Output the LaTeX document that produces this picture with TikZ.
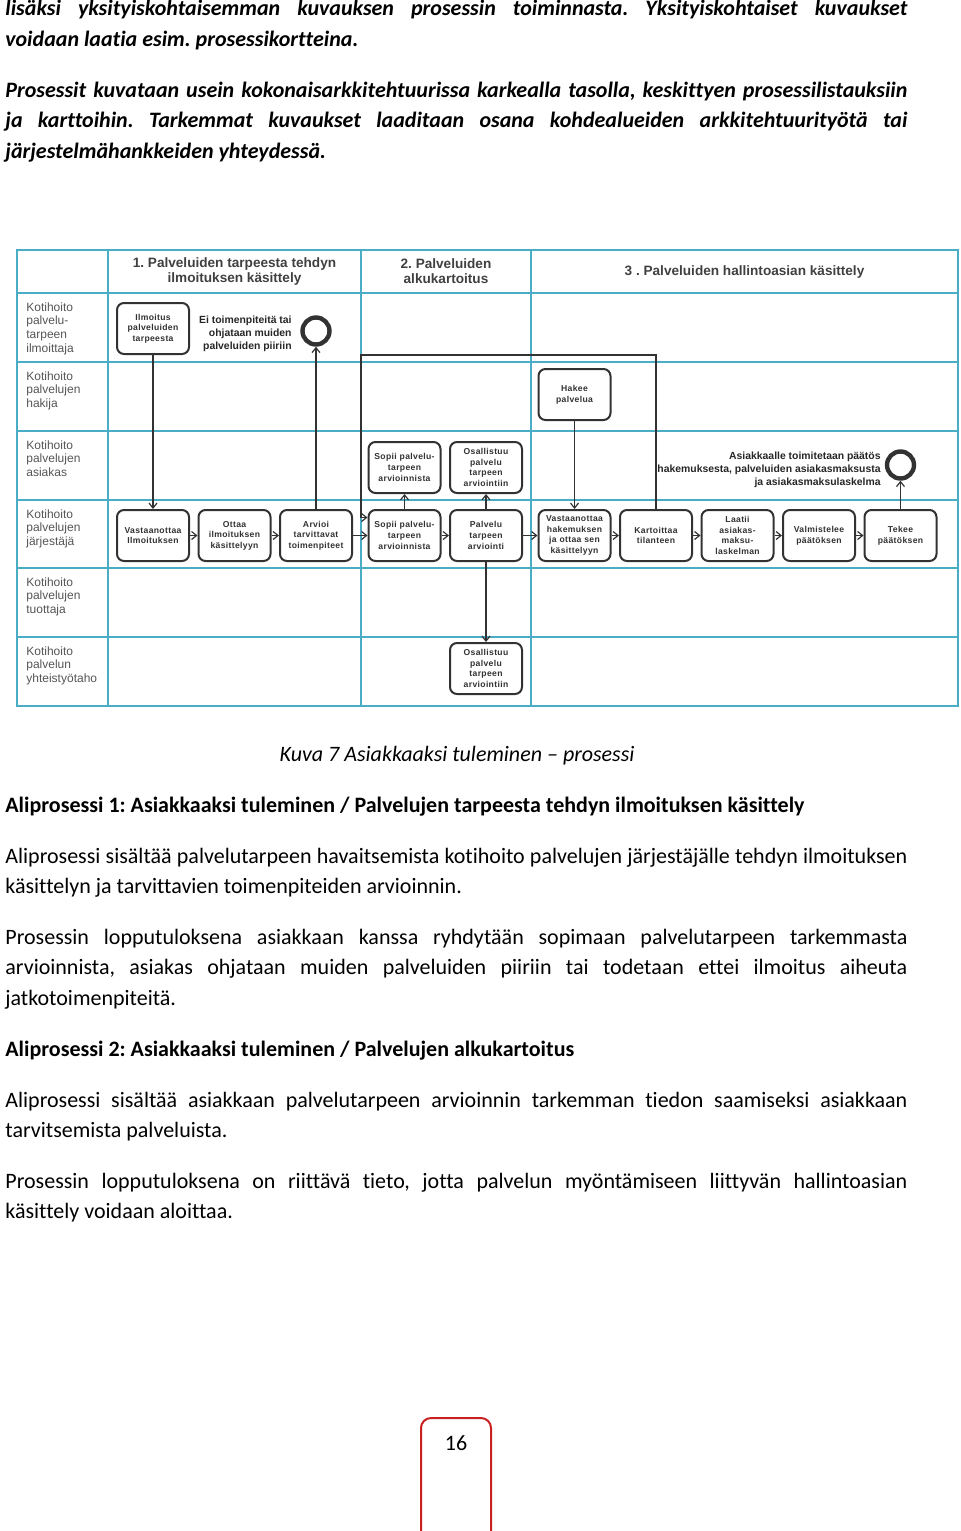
\documentclass[tikz,border=0pt]{standalone}
\usepackage{fontspec}
\setmainfont[Ligatures=NoCommon]{Carlito}
\newfontfamily\diagfont{Liberation Sans}
\newfontfamily\taskfont[LetterSpace=4]{Liberation Sans}
\usetikzlibrary{positioning, arrows.meta}
\setlength\parindent{0pt}
\frenchspacing
\tolerance=9999
\hbadness=10000
\hyphenpenalty=10000
\definecolor{lanec}{RGB}{75,172,198}
\definecolor{boxc}{RGB}{50,50,50}
\definecolor{labc}{RGB}{85,85,85}
\definecolor{pagec}{RGB}{200,32,32}
\newcommand\bodyfont{\fontsize{11}{15.25}\selectfont}
\tikzstyle{body} = [anchor=base west, inner sep=0pt, text width=451pt, align=justify, font=\bodyfont]
\tikzstyle{lane} = [draw=lanec, line width=0.75pt]
\tikzstyle{head} = [align=center, inner sep=0pt, text=black!75, font=\diagfont\bfseries\fontsize{6.8}{7.5}\selectfont]
\tikzstyle{lanelabel} = [anchor=base west, inner sep=0pt, text width=45pt, align=left, text=labc, font=\diagfont\fontsize{6}{6.85}\selectfont]
\tikzstyle{task} = [rectangle, rounded corners=3.5pt, draw=boxc, line width=1pt, text width=34pt, minimum width=36pt, minimum height=25.5pt, inner sep=1pt, align=center, text=boxc, font=\taskfont\bfseries\fontsize{4.3}{5.3}\selectfont]
\tikzstyle{endev} = [circle, draw=boxc, line width=2.2pt, minimum size=13.5pt, inner sep=0pt]
\tikzstyle{endlabel} = [anchor=east, inner sep=0pt, align=right, text=black!85, font=\diagfont\bfseries\fontsize{5.2}{6.5}\selectfont]
\tikzstyle{arrow} = [draw=boxc, line width=0.6pt, -{Straight Barb[length=2.5pt,width=4pt]}]
\tikzstyle{pagetab} = [draw=pagec, line width=1pt, rounded corners=5pt]

\begin{document}
\begin{tikzpicture}[x=0.5pt, y=-0.5pt, node distance=3.75pt]
\useasboundingbox (0,0) rectangle (960,1531);

\node (top1) [body, font=\bodyfont\bfseries\itshape] at (5,16) {lisäksi yksityiskohtaisemman kuvauksen prosessin toiminnasta. Yksityiskohtaiset kuvaukset\linebreak voidaan laatia esim. prosessikortteina.};
\node (top2) [body, font=\bodyfont\bfseries\itshape] at (5,97) {Prosessit kuvataan usein kokonaisarkkitehtuurissa karkealla tasolla, keskittyen prosessilistauksiin\linebreak ja karttoihin. Tarkemmat kuvaukset laaditaan osana kohdealueiden arkkitehtuurityötä tai\linebreak järjestelmähankkeiden yhteydessä.};

\draw[lane] (17,250) rectangle (958,706);
\foreach \y in {293,362,431,500,568,637} \draw[lane] (17,\y) -- (958,\y);
\foreach \x in {108,361,531} \draw[lane] (\x,250) -- (\x,706);

\node (h1) [head] at (234.5,271.5) {1. Palveluiden tarpeesta tehdyn\\ilmoituksen käsittely};
\node (h2) [head] at (446,271.5) {2. Palveluiden\\alkukartoitus};
\node (h3) [head] at (744.5,272) {3 . Palveluiden hallintoasian käsittely};

\node (l1) [lanelabel] at (26,311) {Kotihoito\\palvelu-\\tarpeen\\ilmoittaja};
\node (l2) [lanelabel] at (26,380) {Kotihoito\\palvelujen\\hakija};
\node (l3) [lanelabel] at (26,449) {Kotihoito\\palvelujen\\asiakas};
\node (l4) [lanelabel] at (26,518) {Kotihoito\\palvelujen\\järjestäjä};
\node (l5) [lanelabel] at (26,586) {Kotihoito\\palvelujen\\tuottaja};
\node (l6) [lanelabel] at (26,655) {Kotihoito\\palvelun\\yhteistyötaho};

\node (j1) [task] at (153,535.5) {Vastaanottaa\\Ilmoituksen};
\node (j2) [task, right=of j1] {Ottaa\\ilmoituksen\\käsittelyyn};
\node (j3) [task, right=of j2] {Arvioi\\tarvittavat\\toimenpiteet};
\node (j4) [task, right=7.25pt of j3] {Sopii palvelu-\\tarpeen\\arvioinnista};
\node (j5) [task, right=of j4] {Palvelu\\tarpeen\\arviointi};
\node (j6) [task, right=7.25pt of j5] {Vastaanottaa\\hakemuksen\\ja ottaa sen\\käsittelyyn};
\node (j7) [task, right=of j6] {Kartoittaa\\tilanteen};
\node (j8) [task, right=of j7] {Laatii\\asiakas-\\maksu-\\laskelman};
\node (j9) [task, right=of j8] {Valmistelee\\päätöksen};
\node (j10) [task, right=of j9] {Tekee\\päätöksen};

\node (i1) [task, above=77pt of j1] {Ilmoitus\\palveluiden\\tarpeesta};
\node (k1) [task, above=44pt of j6] {Hakee\\palvelua};
\node (a1) [task, above=7.5pt of j4] {Sopii palvelu-\\tarpeen\\arvioinnista};
\node (a2) [task, above=7.5pt of j5] {Osallistuu\\palvelu\\tarpeen\\arviointiin};
\node (y1) [task, below=40pt of j5] {Osallistuu\\palvelu\\tarpeen\\arviointiin};

\node (e1) [endev] at (j3 |- 0,331) {};
\node (e2) [endev] at (j10 |- 0,465) {};
\node (t1) [endlabel] at (292,334) {Ei toimenpiteitä tai\\ohjataan muiden\\palveluiden piiriin};
\node (t2) [endlabel] at (881,470) {Asiakkaalle toimitetaan päätös\\hakemuksesta, palveluiden asiakasmaksusta\\ja asiakasmaksulaskelma};

\draw[arrow] (i1) -- (j1);
\draw[arrow] (j1) -- (j2);
\draw[arrow] (j2) -- (j3);
\draw[arrow] (j3) -- (e1);
\draw[arrow] (j3) -- (j4);
\draw[arrow] (j4) -- (a1);
\draw[arrow] (j4) -- (j5);
\draw[arrow] (j5) -- (a2);
\draw[arrow] (j5) -- (y1);
\draw[arrow] (j5) -- (j6);
\draw[arrow] (k1) -- (j6);
\draw[arrow] (j6) -- (j7);
\draw[arrow] (j7) -- (j8);
\draw[arrow] (j8) -- (j9);
\draw[arrow] (j9) -- (j10);
\draw[arrow] (j10) -- (e2);
\coordinate (back) at (361,355);
\draw[arrow] (j7.north) |- (back) |- ([yshift=9pt]j4.west);

\node (cap) [anchor=base, inner sep=0pt, font=\bodyfont\itshape] at (457,761) {Kuva 7 Asiakkaaksi tuleminen – prosessi};
\node (s1) [anchor=base west, inner sep=0pt, font=\bodyfont\bfseries] at (5,812) {Aliprosessi 1: Asiakkaaksi tuleminen / Palvelujen tarpeesta tehdyn ilmoituksen käsittely};
\node (p1) [body] at (5,863) {Aliprosessi sisältää palvelutarpeen havaitsemista kotihoito palvelujen järjestäjälle tehdyn ilmoituksen\linebreak käsittelyn ja tarvittavien toimenpiteiden arvioinnin.};
\node (p2) [body] at (5,944) {Prosessin lopputuloksena asiakkaan kanssa ryhdytään sopimaan palvelutarpeen tarkemmasta\linebreak arvioinnista, asiakas ohjataan muiden palveluiden piiriin tai todetaan ettei ilmoitus aiheuta\linebreak jatkotoimenpiteitä.};
\node (s2) [anchor=base west, inner sep=0pt, font=\bodyfont\bfseries] at (5,1056) {Aliprosessi 2: Asiakkaaksi tuleminen / Palvelujen alkukartoitus};
\node (p3) [body] at (5,1107) {Aliprosessi sisältää asiakkaan palvelutarpeen arvioinnin tarkemman tiedon saamiseksi asiakkaan\linebreak tarvitsemista palveluista.};
\node (p4) [body] at (5,1188) {Prosessin lopputuloksena on riittävä tieto, jotta palvelun myöntämiseen liittyvän hallintoasian\linebreak käsittely voidaan aloittaa.};

\draw[pagetab] (421,1545) -- (421,1418) -- (491,1418) -- (491,1545);
\node (pg) [anchor=base, inner sep=0pt, font=\bodyfont] at (456,1450) {16};
\end{tikzpicture}
\end{document}
